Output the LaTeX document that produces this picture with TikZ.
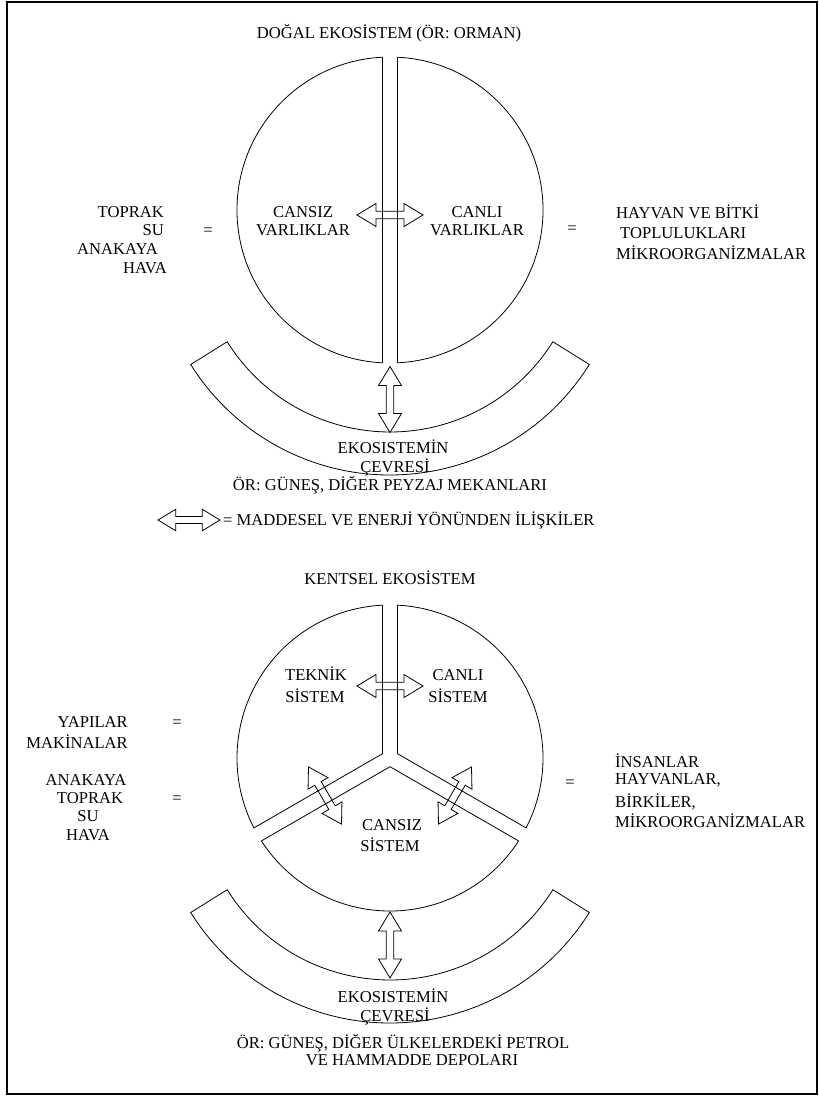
\documentclass[tikz,border=0pt]{standalone}
\usepackage{fontspec}
\setmainfont{Liberation Serif}
\begin{document}
\begin{tikzpicture}[x=1pt,y=-1pt,
  ln/.style={line width=0.8pt, line join=miter},
  txt/.style={font=\fontsize{16.6}{19}\selectfont, inner sep=0pt, text height=11pt, text depth=0pt},
  darr/.pic={\draw[ln] (-33,0) -- (-14,-11.5) -- (-14,-3.7) -- (14,-3.7) -- (14,-11.5) -- (33,0) -- (14,11.5) -- (14,3.7) -- (-14,3.7) -- (-14,11.5) -- cycle;}
]
\useasboundingbox (0,0) rectangle (819,1096);
\fill[white] (0,0) rectangle (819,1096);
\draw[line width=1.2pt] (7,2) rectangle (817,1094);

% ---------- natural ecosystem ----------
\node[txt] (t1) at (389,33) {DOĞAL EKOSİSTEM (ÖR: ORMAN)};
\draw[ln] (382.5,57.2) arc[start angle=-92.8, end angle=-267.2, radius=153] -- cycle;
\draw[ln] (397.5,57.2) arc[start angle=-87.2, end angle=87.2, radius=153] -- cycle;
\pic (a1) at (390,215) {darr};
\node[txt] (cz1) at (303,212) {CANSIZ};
\node[txt] (vl1) at (303,230) {VARLIKLAR};
\node[txt] (cl1) at (477,212) {CANLI};
\node[txt] (vl2) at (477,230) {VARLIKLAR};

\node[txt,anchor=east] (l1) at (164,212) {TOPRAK};
\node[txt,anchor=east] (l2) at (164,230) {SU};
\node[txt,anchor=east] (l3) at (158,249) {ANAKAYA};
\node[txt,anchor=east] (l4) at (167,268) {HAVA};
\node[txt] (e1) at (208,230) {=};

\node[txt] (e2) at (572,228) {=};
\node[txt,anchor=west] (r1) at (616,213) {HAYVAN VE BİTKİ};
\node[txt,anchor=west] (r2) at (620,233) {TOPLULUKLARI};
\node[txt,anchor=west] (r3) at (616,254) {MİKROORGANİZMALAR};

\draw[ln] (227.2,341.7) arc[start angle=148, end angle=32, radius=192] -- (589.3,364.5) arc[start angle=32, end angle=148, radius=235] -- cycle;
\pic[rotate=90] (a2) at (390,399.5) {darr};
\node[txt] (ek1) at (393,448) {EKOSISTEMİN};
\node[txt] (cv1) at (395,467) {ÇEVRESİ};
\node[txt] (or1) at (390,485) {ÖR: GÜNEŞ, DİĞER PEYZAJ MEKANLARI};

\pic[scale=0.94] (lg) at (189,520) {darr};
\node[txt,anchor=west] (lgt) at (223,520) {= MADDESEL VE ENERJİ YÖNÜNDEN İLİŞKİLER};

% ---------- urban ecosystem ----------
\node[txt] (t2) at (390,579) {KENTSEL EKOSİSTEM};
\draw[ln] (382.5,605.2) -- (382.5,753.7) -- (253.9,827.9) arc[start angle=152.8, end angle=267.2, radius=153] -- cycle;
\draw[ln] (397.5,605.2) -- (397.5,753.7) -- (526.1,827.9) arc[start angle=27.2, end angle=-87.2, radius=153] -- cycle;
\draw[ln] (390,766.7) -- (261.4,840.9) arc[start angle=147.2, end angle=32.8, radius=153] -- cycle;
\pic (b1) at (390,686) {darr};
\pic[rotate=-60] (b2) at (325,795.5) {darr};
\pic[rotate=60] (b3) at (455,795.5) {darr};

\node[txt] (tk) at (316,675) {TEKNİK};
\node[txt] (s1) at (315,697) {SİSTEM};
\node[txt] (cl2) at (458,675) {CANLI};
\node[txt] (s2) at (458,697) {SİSTEM};
\node[txt] (cz2) at (392,825) {CANSIZ};
\node[txt] (s3) at (390,846) {SİSTEM};

\node[txt,anchor=east] (m1) at (128,722) {YAPILAR};
\node[txt,anchor=east] (m2) at (128,743) {MAKİNALAR};
\node[txt] (e3) at (177,722) {=};
\node[txt] (n1) at (86,780) {ANAKAYA};
\node[txt] (n2) at (90,798) {TOPRAK};
\node[txt] (n3) at (88,816) {SU};
\node[txt] (n4) at (88,835) {HAVA};
\node[txt] (e4) at (177,798) {=};

\node[txt] (e5) at (570,782) {=};
\node[txt,anchor=west] (h1) at (615,762) {İNSANLAR};
\node[txt,anchor=west] (h2) at (615,779) {HAYVANLAR,};
\node[txt,anchor=west] (h3) at (615,802) {BİRKİLER,};
\node[txt,anchor=west] (h4) at (615,822) {MİKROORGANİZMALAR};

\draw[ln] (227.2,889.7) arc[start angle=148, end angle=32, radius=192] -- (589.3,912.5) arc[start angle=32, end angle=148, radius=235] -- cycle;
\pic[rotate=90] (b4) at (390,945) {darr};
\node[txt] (ek2) at (393,997) {EKOSISTEMİN};
\node[txt] (cv2) at (395,1016) {ÇEVRESİ};
\node[txt] (or2) at (403,1043) {ÖR: GÜNEŞ, DİĞER ÜLKELERDEKİ PETROL};
\node[txt] (or3) at (412,1060) {VE HAMMADDE DEPOLARI};
\end{tikzpicture}
\end{document}
